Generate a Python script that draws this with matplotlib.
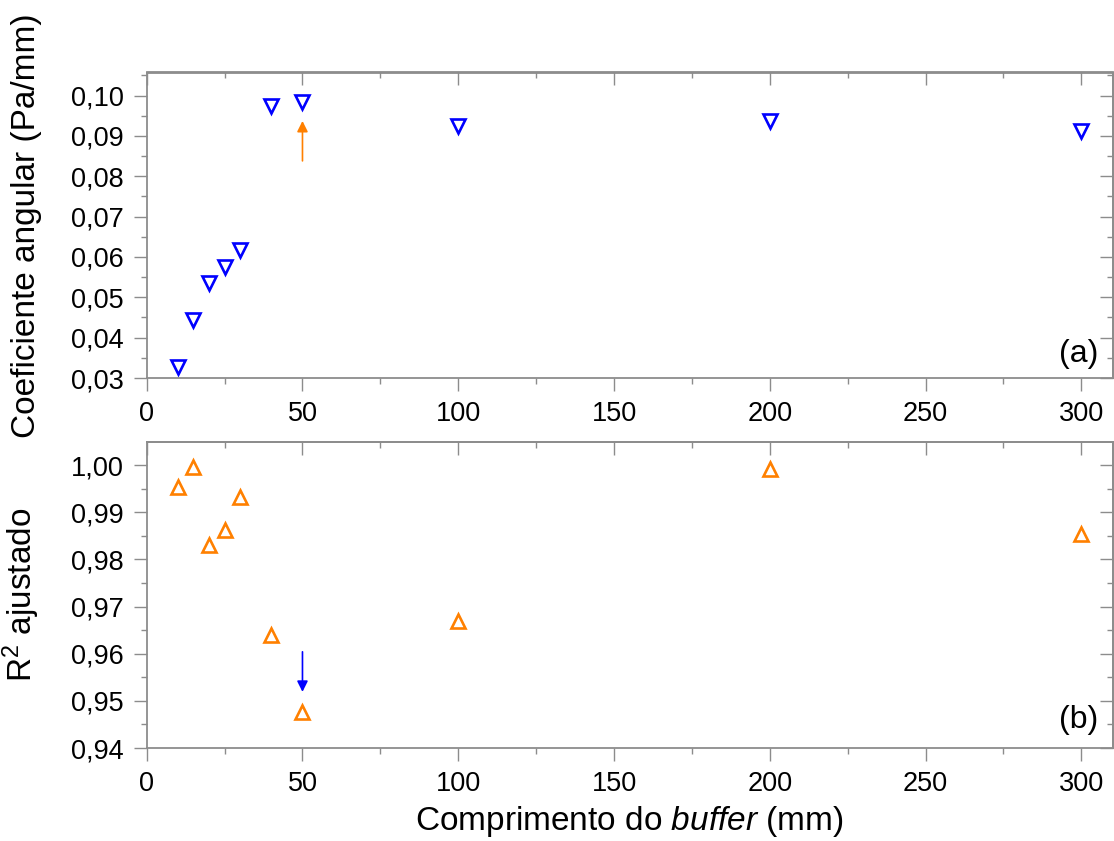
import matplotlib
matplotlib.use("Agg")
import matplotlib.pyplot as plt
from matplotlib.ticker import MultipleLocator, FuncFormatter

plt.rcParams['font.family'] = ['Liberation Sans', 'DejaVu Sans']
plt.rcParams['mathtext.fontset'] = 'custom'
plt.rcParams['mathtext.rm'] = 'Liberation Sans'
plt.rcParams['mathtext.it'] = 'Liberation Sans:italic'

# buffer lengths (mm)
buffer_mm = [10, 15, 20, 25, 30, 40, 50, 100, 200, 300]
# (a) slope
coef_angular = [0.0328, 0.0443, 0.0535, 0.0574, 0.0617, 0.0974, 0.0984, 0.0925, 0.0937, 0.0913]
# (b) adjusted R^2
r2_ajustado = [0.9954, 0.9995, 0.9830, 0.9863, 0.9932, 0.9639, 0.9477, 0.9669, 0.9991, 0.9853]

# arrows at the 50 mm point: (x, tail, head)
arrow_a = (50, 0.0838, 0.0937)
arrow_b = (50, 0.9604, 0.9519)

BLUE = '#0000FF'
ORANGE = '#FF8000'
GRAY = '#8c8c8c'

fig = plt.figure(figsize=(11.14, 8.41), dpi=100)
W, H = 1114, 841
left, right = 146.7 / W, 1112.5 / W
ax1 = fig.add_axes([left, 1 - 378 / H, right - left, (378 - 72.5) / H])
ax2 = fig.add_axes([left, 1 - 748 / H, right - left, (748 - 442) / H])


def comma_fmt(v, pos):
    return f"{v:.2f}".replace('.', ',')


def style(ax, ymaj, ymin):
    for sp in ax.spines.values():
        sp.set_color(GRAY)
        sp.set_linewidth(1.3)
    ax.set_xlim(0, 310)
    ax.xaxis.set_major_locator(MultipleLocator(50))
    ax.xaxis.set_minor_locator(MultipleLocator(25))
    ax.yaxis.set_major_locator(MultipleLocator(ymaj))
    ax.yaxis.set_minor_locator(MultipleLocator(ymin))
    ax.tick_params(which='both', direction='out', color=GRAY, width=1.0,
                   labelsize=19.5)
    ax.tick_params(which='major', length=9.5, pad=7)
    ax.tick_params(which='minor', length=4.5)
    ax.yaxis.set_major_formatter(FuncFormatter(comma_fmt))
    ax.yaxis.set_label_coords(-0.108, 0.5)

    # inward ticks on top and right
    top = ax.secondary_xaxis('top')
    top.xaxis.set_major_locator(MultipleLocator(50))
    top.xaxis.set_minor_locator(MultipleLocator(25))
    rgt = ax.secondary_yaxis('right')
    rgt.yaxis.set_major_locator(MultipleLocator(ymaj))
    rgt.yaxis.set_minor_locator(MultipleLocator(ymin))
    for sec in (top, rgt):
        sec.tick_params(which='both', direction='in', color=GRAY, width=1.0,
                        labeltop=False, labelright=False)
        sec.tick_params(which='major', length=9.5)
        sec.tick_params(which='minor', length=4.5)
        for sp in sec.spines.values():
            sp.set_color(GRAY)
            sp.set_linewidth(1.3)


ax1.plot(buffer_mm, coef_angular, linestyle='none', marker='v', ms=10.5,
         mfc='white', mec=BLUE, mew=1.9)
ax1.set_ylim(0.03, 0.1057)
style(ax1, 0.01, 0.005)
ax1.set_ylabel('Coeficiente angular (Pa/mm)', fontsize=24)
ax1.text(0.985, 0.08, '(a)', transform=ax1.transAxes, fontsize=23,
         ha='right', va='center')
ax1.annotate('', xy=(arrow_a[0], arrow_a[2]), xytext=(arrow_a[0], arrow_a[1]),
             arrowprops=dict(arrowstyle='-|>', color=ORANGE, lw=1.2,
                             mutation_scale=16, shrinkA=0, shrinkB=0))

ax2.plot(buffer_mm, r2_ajustado, linestyle='none', marker='^', ms=10.5,
         mfc='white', mec=ORANGE, mew=1.9)
ax2.set_ylim(0.94, 1.0049)
style(ax2, 0.01, 0.005)
ax2.set_ylabel('R$^2$ ajustado', fontsize=24)
ax2.set_xlabel('Comprimento do $\\mathit{buffer}$ (mm)', fontsize=24, labelpad=5)
ax2.text(0.985, 0.09, '(b)', transform=ax2.transAxes, fontsize=23,
         ha='right', va='center')
ax2.annotate('', xy=(arrow_b[0], arrow_b[2]), xytext=(arrow_b[0], arrow_b[1]),
             arrowprops=dict(arrowstyle='-|>', color=BLUE, lw=1.2,
                             mutation_scale=16, shrinkA=0, shrinkB=0))

fig.savefig('out.png', dpi=100)
